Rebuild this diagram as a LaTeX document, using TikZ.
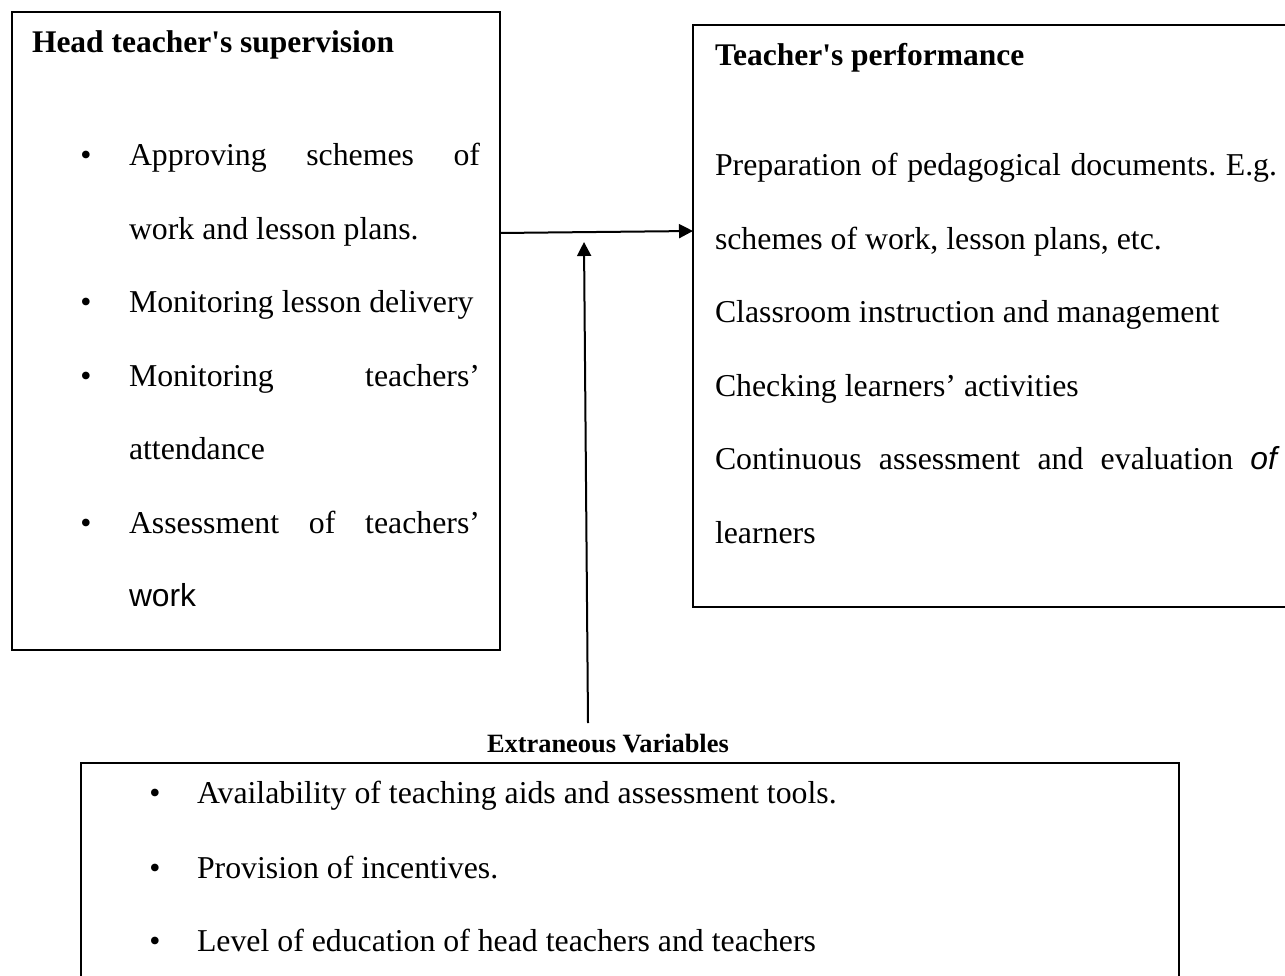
\documentclass[tikz,border=0pt]{standalone}
\usepackage{fontspec}
\setmainfont{Liberation Serif}
\newfontfamily\arialf{Liberation Sans}
\usetikzlibrary{arrows.meta}
\frenchspacing
\tikzset{
  box/.style={draw=black, line width=1.7pt, rectangle, inner sep=0pt, outer sep=0pt},
  txt/.style={anchor=base west, inner sep=0pt, outer sep=0pt, font=\fontsize{31.8}{36}\selectfont},
  hd/.style={txt, font=\fontsize{31.5}{36}\selectfont\bfseries},
  subhd/.style={txt, font=\fontsize{26.4}{30}\selectfont\bfseries},
  bul/.style={anchor=base, inner sep=0pt, outer sep=0pt, font=\fontsize{31.8}{36}\selectfont},
  arr/.style={line width=2pt, -{Triangle[length=14pt,width=14pt]}}
}
\begin{document}
\begin{tikzpicture}[x=1pt,y=-1pt]
\useasboundingbox (0,0) rectangle (1285,976);
\fill[white] (0,0) rectangle (1285,976);

% boxes
\node[box, minimum width=488pt, minimum height=638pt] (lbox) at (256,331) {};
\node[box, minimum width=600pt, minimum height=582pt] (rbox) at (993,316) {};
\node[box, minimum width=1098pt, minimum height=240pt] (bbox) at (630,883) {};

% left box text
\node[hd] (lh) at (32,53) {Head teacher\textquotesingle s supervision};
\node[bul] (lb1) at (86,166) {•};
\node[txt] (l1) at (129,166) {\makebox[351pt][s]{Approving schemes of}};
\node[txt] (l2) at (129,239.4) {work and lesson plans.};
\node[bul] (lb2) at (86,312.8) {•};
\node[txt] (l3) at (129,312.8) {Monitoring lesson delivery};
\node[bul] (lb3) at (86,386.2) {•};
\node[txt] (l4) at (129,386.2) {\makebox[351pt][s]{Monitoring teachers’}};
\node[txt] (l5) at (129,459.6) {attendance};
\node[bul] (lb4) at (86,533) {•};
\node[txt] (l6) at (129,533) {\makebox[351pt][s]{Assessment of teachers’}};
\node[txt] (l7) at (129,606.4) {\arialf work};

% right box text
\node[hd] (rh) at (715,66) {Teacher\textquotesingle s performance};
\node[txt] (r1) at (715,176) {\makebox[562pt][s]{Preparation of pedagogical documents. E.g.}};
\node[txt] (r2) at (715,249.4) {schemes of work, lesson plans, etc.};
\node[txt] (r3) at (715,322.8) {Classroom instruction and management};
\node[txt] (r4) at (715,396.2) {Checking learners’ activities};
\node[txt] (r5) at (715,469.6) {\makebox[562pt][s]{Continuous assessment and evaluation {\arialf\itshape of}}};
\node[txt] (r6) at (715,543) {learners};

% bottom
\node[subhd] (ev) at (487,752) {Extraneous Variables};
\node[bul] (bb1) at (155,803) {•};
\node[txt] (b1) at (197,803) {Availability of teaching aids and assessment tools.};
\node[bul] (bb2) at (155,878) {•};
\node[txt] (b2) at (197,878) {Provision of incentives.};
\node[bul] (bb3) at (155,951) {•};
\node[txt] (b3) at (197,951) {Level of education of head teachers and teachers};

% connectors
\draw[arr] ([yshift=-221pt]lbox.north east) -- ([yshift=-206pt]rbox.north west);
\coordinate (vbot) at (588,723);
\coordinate (vtop) at (584,242);
\draw[arr] (vbot) -- (vtop);
\end{tikzpicture}
\end{document}
